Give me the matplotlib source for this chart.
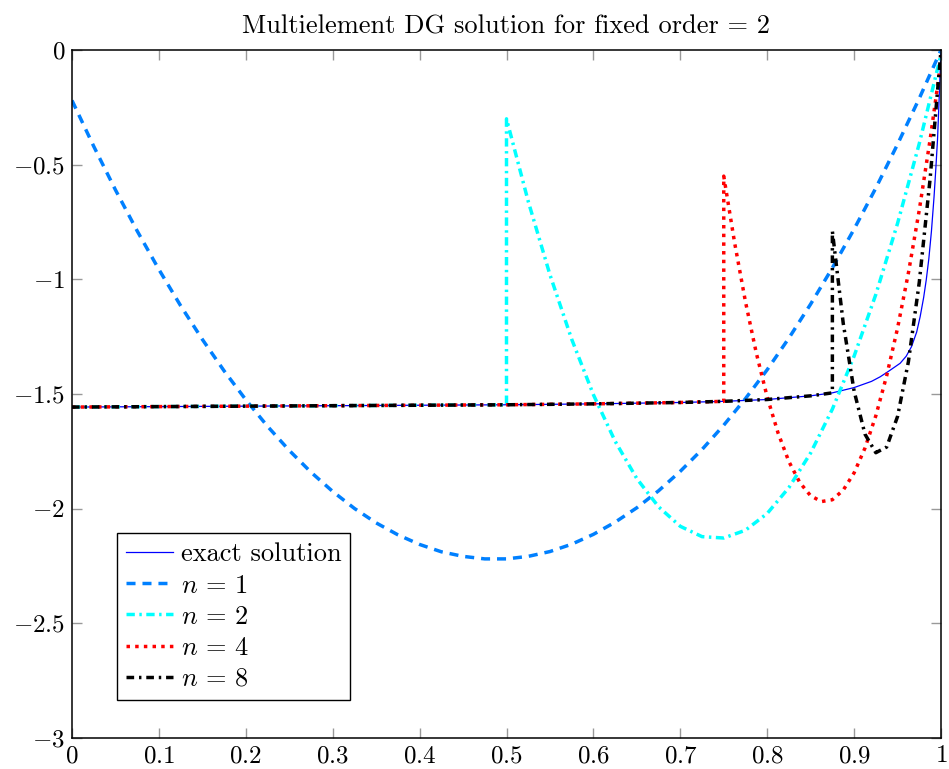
import matplotlib
matplotlib.use("Agg")
import matplotlib.pyplot as plt
from matplotlib.ticker import FuncFormatter
import numpy as np

plt.rcParams["font.family"] = ["cmr10", "DejaVu Serif"]
plt.rcParams["mathtext.fontset"] = "cm"
plt.rcParams["axes.formatter.use_mathtext"] = True

# Exact solution (boundary layer at x = 1).
exact_x = [0.0, 0.1, 0.2, 0.3, 0.4, 0.5, 0.6, 0.7, 0.75, 0.8, 0.85, 0.875, 0.9, 0.92,
           0.93, 0.94, 0.953, 0.96, 0.966, 0.972, 0.976, 0.98, 0.983, 0.986, 0.989,
           0.992, 0.994, 0.996, 0.998, 1.0]
exact_y = [-1.557, -1.555, -1.553, -1.551, -1.549, -1.547, -1.543, -1.537, -1.532, -1.524,
           -1.508, -1.495, -1.472, -1.445, -1.425, -1.40, -1.366, -1.335, -1.294, -1.23,
           -1.163, -1.08, -1.003, -0.91, -0.79, -0.64, -0.52, -0.39, -0.20, 0.0]

# n = 1, one element on [0, 1].
n1_x = [0.0, 0.025, 0.05, 0.075, 0.1, 0.125, 0.15, 0.175, 0.2, 0.225, 0.25, 0.275, 0.3,
        0.325, 0.35, 0.375, 0.4, 0.425, 0.45, 0.475, 0.5, 0.525, 0.55, 0.575, 0.6,
        0.625, 0.65, 0.675, 0.7, 0.725, 0.75, 0.775, 0.8, 0.825, 0.85, 0.875, 0.9,
        0.925, 0.95, 0.975, 1.0]
n1_y = [-0.22, -0.420, -0.610, -0.789, -0.957, -1.115, -1.262, -1.399, -1.525, -1.641,
        -1.746, -1.841, -1.925, -1.999, -2.062, -2.114, -2.156, -2.188, -2.208, -2.219,
        -2.219, -2.208, -2.187, -2.155, -2.112, -2.059, -1.996, -1.922, -1.837, -1.742,
        -1.636, -1.520, -1.394, -1.256, -1.108, -0.950, -0.781, -0.602, -0.411, -0.211, 0.0]

# n = 2, last element [0.5, 1].
n2_x = [0.5, 0.525, 0.55, 0.575, 0.6, 0.625, 0.65, 0.675, 0.7, 0.725, 0.75, 0.775, 0.8,
        0.825, 0.85, 0.875, 0.9, 0.925, 0.95, 0.975, 1.0]
n2_y = [-0.30, -0.660, -0.980, -1.261, -1.503, -1.706, -1.869, -1.992, -2.077, -2.122,
        -2.128, -2.094, -2.021, -1.908, -1.757, -1.566, -1.335, -1.066, -0.756, -0.408, -0.02]

# n = 4, last element [0.75, 1].
n4_x = [0.75, 0.7625, 0.775, 0.7875, 0.8, 0.8125, 0.825, 0.8375, 0.85, 0.8625, 0.875,
        0.8875, 0.9, 0.9125, 0.925, 0.9375, 0.95, 0.9625, 0.975, 0.9875, 1.0]
n4_y = [-0.55, -0.8405, -1.098, -1.322, -1.513, -1.670, -1.795, -1.886, -1.944, -1.969,
        -1.961, -1.919, -1.844, -1.736, -1.595, -1.420, -1.213, -0.972, -0.698, -0.390, -0.05]

# n = 8, last element [0.875, 1].
n8_x = [0.875, 0.8875, 0.9, 0.9125, 0.925, 0.9375, 0.95, 0.9625, 0.975, 0.9875, 1.0]
n8_y = [-0.79, -1.192, -1.487, -1.675, -1.756, -1.731, -1.598, -1.359, -1.013, -0.560, 0.0]

x_ticks = [0, 0.1, 0.2, 0.3, 0.4, 0.5, 0.6, 0.7, 0.8, 0.9, 1]
y_ticks = [-3, -2.5, -2, -1.5, -1, -0.5, 0]


def dg_series(start, last_x, last_y):
    # Earlier elements lie on the exact solution.
    ex = np.array(exact_x)
    ey = np.array(exact_y)
    keep = ex <= start
    return (np.concatenate([ex[keep], last_x]),
            np.concatenate([ey[keep], last_y]))


fig = plt.figure(figsize=(9.49, 7.69), dpi=100)
ax = fig.add_axes([72 / 949, 31 / 769, 869 / 949, 688 / 769])

lw = 2.5
ax.plot(exact_x, exact_y, color="#0000ff", linewidth=0.9, label="exact solution")
ax.plot(n1_x, n1_y, color="#0080ff", linewidth=lw, linestyle=(0, (2.6, 2.0)),
        label=r"$n\,=\,1$")
x2, y2 = dg_series(0.5, n2_x, n2_y)
ax.plot(x2, y2, color="#00ffff", linewidth=lw, linestyle=(0, (2.4, 1.3, 0.7, 1.3)),
        label=r"$n\,=\,2$")
x4, y4 = dg_series(0.75, n4_x, n4_y)
ax.plot(x4, y4, color="#ff0000", linewidth=lw, linestyle=(0, (1.0, 1.5)),
        label=r"$n\,=\,4$")
x8, y8 = dg_series(0.875, n8_x, n8_y)
ax.plot(x8, y8, color="black", linewidth=lw, linestyle=(0, (2.2, 1.4, 0.7, 1.4)),
        label=r"$n\,=\,8$")

ax.set_xlim(0, 1)
ax.set_ylim(-3, 0)
ax.set_xticks(x_ticks)
ax.set_yticks(y_ticks)
ax.xaxis.set_major_formatter(FuncFormatter(lambda v, p: f"${v:g}$"))
ax.yaxis.set_major_formatter(FuncFormatter(lambda v, p: f"${v:g}$"))
ax.tick_params(direction="in", top=True, right=True, length=7, width=1,
               color="#999999", labelsize=18, pad=5)
for s in ax.spines.values():
    s.set_linewidth(1.1)

ax.set_title("Multielement DG solution for fixed order = 2", fontsize=19, pad=12)

leg = ax.legend(loc="lower left", bbox_to_anchor=(0.052, 0.055), borderaxespad=0,
                fontsize=19, fancybox=False, edgecolor="black", framealpha=1,
                handlelength=1.75, handletextpad=0.3, labelspacing=0.28, borderpad=0.35)
leg.get_frame().set_linewidth(1.0)

plt.savefig("out.png", dpi=100)
plt.close()
